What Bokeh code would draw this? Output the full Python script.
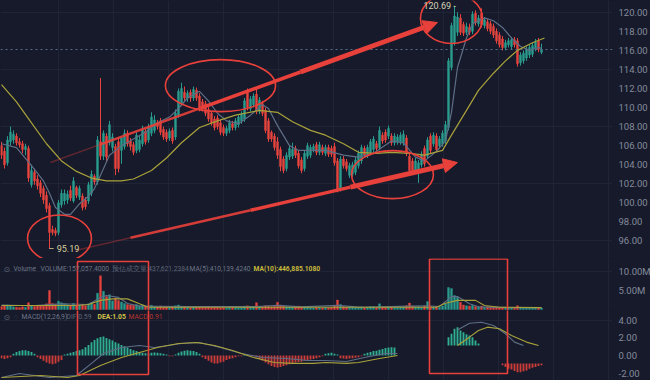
from bokeh.plotting import figure
from bokeh.layouts import column
from bokeh.models import (ColumnDataSource, Range1d, FixedTicker, NumeralTickFormatter,
                          PrintfTickFormatter, Span, Label, Arrow, NormalHead)
from bokeh.embed import file_html
from bokeh.resources import INLINE

# ---------------- data ----------------
open_ = [106.0,105.4,104.2,106.4,106.6,107.0,106.4,106.2,105.6,105.7,
         101.9,103.2,102.5,102.1,101.5,100.8,99.7,97.2,97.1,96.9,
         99.8,100.2,100.3,101.3,100.2,101.6,100.6,100.7,100.3,100.2,
         101.0,102.8,102.2,106.4,104.9,107.0,106.3,105.8,105.9,106.4,
         105.5,105.9,107.3,106.5,106.1,105.5,105.6,106.2,107.5,106.6,
         107.3,107.6,108.4,108.6,107.7,107.4,106.8,107.6,106.9,109.2,
         110.5,111.6,111.0,111.6,111.0,111.8,111.2,110.6,110.4,109.8,
         109.4,108.8,108.9,108.4,107.9,107.3,107.6,108.3,107.9,108.2,
         108.6,108.8,111.8,109.9,110.3,111.4,109.6,110.4,109.7,108.6,
         107.4,107.0,106.4,105.6,104.6,103.6,104.8,104.9,105.7,105.2,
         104.5,103.6,104.9,105.0,105.6,106.1,105.3,105.8,105.2,105.8,
         105.7,105.9,104.4,101.4,104.6,104.3,102.9,103.0,103.2,103.9,
         104.4,105.7,105.0,105.3,105.6,106.2,105.8,107.1,107.4,107.0,
         107.0,106.3,106.4,106.4,106.3,106.8,104.9,104.4,103.4,103.4,
         104.0,105.7,104.9,107.0,106.2,107.0,106.0,106.2,106.5,107.9,
         114.2,116.8,117.9,119.4,118.7,117.9,118.4,118.0,119.9,118.8,
         119.9,118.6,119.0,118.8,118.5,118.0,117.6,117.2,116.3,116.6,
         116.4,117.1,117.0,114.7,114.9,115.2,115.5,115.6,116.2,117.0,115.8]
high = [106.4,105.8,107.0,108.0,107.6,107.3,106.8,106.5,106.2,106.0,
        104.0,103.6,102.9,102.4,101.8,101.2,100.0,97.6,97.4,100.3,
        101.4,101.4,101.3,101.8,102.7,101.8,101.8,101.0,100.6,102.2,
        103.4,103.0,107.0,113.1,107.6,107.3,108.6,107.3,106.2,106.8,
        106.9,107.7,107.6,106.8,106.4,107.4,107.0,108.1,107.8,108.3,
        109.5,109.2,108.7,108.9,108.0,107.7,107.8,107.9,109.8,112.0,
        112.6,112.2,111.8,111.9,112.2,112.1,111.5,110.9,110.7,110.1,
        109.6,109.1,109.2,108.7,108.2,108.1,108.7,108.6,108.9,109.3,
        109.6,111.0,112.0,111.2,111.5,112.1,111.1,110.7,110.0,108.9,
        107.6,107.3,106.9,105.9,104.9,105.3,106.0,106.3,106.0,105.5,
        104.8,105.5,106.3,106.1,106.2,106.4,106.4,106.1,106.1,106.1,
        106.0,106.3,104.7,104.9,104.9,104.6,104.2,104.3,104.8,105.5,
        106.1,106.0,106.1,106.7,107.0,106.5,108.0,107.4,107.7,108.1,
        107.3,107.3,107.2,107.4,107.6,107.1,105.2,104.7,104.7,104.5,
        105.4,106.0,106.9,107.3,107.4,107.3,107.0,107.6,108.6,115.2,
        118.9,120.69,120.0,119.8,119.0,118.9,118.8,120.1,120.2,119.7,
        120.4,119.5,119.3,119.1,118.8,118.3,117.9,117.5,117.1,117.3,
        117.4,117.4,117.3,115.8,116.0,116.4,116.6,116.8,117.2,117.3,116.7]
low = [104.6,103.6,103.9,106.0,106.2,106.0,105.8,105.2,105.0,102.2,
       101.6,101.9,101.4,100.6,99.9,99.0,95.19,96.6,96.5,96.6,
       99.5,99.8,99.9,100.2,100.0,100.5,100.3,99.2,99.3,99.9,
       100.7,101.9,101.9,104.5,104.5,104.4,106.0,105.4,102.9,103.2,
       104.1,105.6,105.9,105.5,105.0,105.2,105.3,105.9,106.1,106.3,
       107.0,107.3,107.7,107.1,106.6,106.4,106.5,106.2,106.6,108.9,
       110.2,110.7,110.6,110.6,110.7,110.7,109.6,109.6,109.1,108.5,
       108.1,107.6,107.7,107.1,107.0,107.0,107.3,107.6,107.6,107.9,
       108.3,108.5,109.7,109.6,110.0,109.3,109.3,109.1,107.3,106.4,
       106.4,105.5,104.6,103.3,103.1,103.3,104.5,104.6,104.7,103.6,
       103.1,103.3,104.6,104.7,105.3,105.0,105.0,105.0,104.9,104.8,
       104.8,103.9,101.1,101.2,103.6,103.3,102.6,102.7,102.9,103.6,
       104.1,104.7,104.7,105.0,105.3,105.4,105.5,106.2,106.3,106.7,
       106.0,106.0,106.1,106.1,106.0,104.9,103.1,103.1,103.1,102.1,
       103.7,103.8,104.6,105.2,105.9,105.3,105.7,105.9,106.2,107.6,
       113.9,116.5,117.5,117.6,117.5,117.6,117.6,117.7,118.6,118.5,
       118.4,118.3,118.0,117.7,117.3,116.7,116.3,116.0,116.0,116.3,
       116.1,116.3,114.3,114.4,114.6,114.9,115.2,115.3,115.9,115.8,115.6]
close_ = [105.0,104.0,106.6,107.4,107.2,106.3,106.1,105.6,105.9,102.6,
          103.4,102.3,101.8,101.0,100.3,99.4,96.9,96.9,96.8,100.0,
          101.0,101.0,100.9,100.5,102.3,100.8,101.5,99.5,99.6,101.9,
          103.0,102.2,106.6,104.9,107.3,104.8,108.2,106.9,103.6,103.6,
          106.8,107.3,106.2,105.9,105.3,107.1,106.6,107.7,106.4,107.9,
          109.0,108.7,108.0,107.4,106.9,106.7,107.5,106.5,109.4,111.7,
          112.0,111.0,111.5,111.0,111.9,111.0,109.9,109.9,109.4,108.8,
          108.4,107.9,108.0,107.4,107.3,107.8,108.4,107.9,108.6,109.0,
          109.3,110.7,110.0,110.9,111.2,109.6,110.8,109.4,107.6,106.7,
          106.7,105.8,105.0,103.8,103.4,105.0,105.7,105.6,105.0,103.9,
          103.4,105.2,106.0,105.8,105.9,105.3,106.1,105.3,105.8,105.1,
          105.1,104.2,101.3,104.6,103.9,103.6,103.9,104.0,104.5,105.2,
          105.8,105.0,105.8,106.4,106.7,105.7,107.6,106.5,106.6,107.8,
          106.3,107.0,106.9,107.1,107.2,105.2,103.4,103.3,104.4,104.2,
          105.1,104.1,106.6,105.5,107.1,105.6,106.7,107.3,108.2,114.9,
          118.6,119.6,119.5,117.9,117.8,118.5,117.9,119.8,118.9,119.4,
          118.7,119.2,118.3,118.0,117.6,117.0,116.6,116.3,116.8,117.0,
          117.1,116.6,114.6,115.5,115.7,116.1,116.3,116.5,116.9,116.1,116.09]

ma_short_idx = [0,5,10,14,16,18,21,23,26,29,31,33,36,40,44,48,52,56,59,62,66,69,72,75,79,83,
                87,89,92,96,99,104,108,114,119,124,130,134,138,141,145,148,150,152,155,157,
                161,164,167,170,173,176,179,180]
ma_short = [106.2,105.8,103.9,102.3,101.0,99.5,98.8,98.8,99.9,100.7,101.5,102.9,105.0,106.0,
            106.7,107.4,108.4,109.0,109.9,111.0,111.7,110.7,109.4,108.6,108.3,109.2,110.3,109.9,
            108.1,106.0,105.5,105.5,105.5,105.0,104.8,105.2,106.5,106.3,104.8,104.4,105.4,106.5,
            109.5,114.2,117.3,118.8,119.4,119.1,118.4,117.3,116.4,116.0,116.3,116.2]
ma_long_idx = [0,5,10,15,20,25,30,35,40,44,50,55,60,66,72,78,86,92,97,103,108,114,119,125,
               130,136,141,147,150,155,159,164,168,172,177,181]
ma_long = [112.4,110.6,108.4,106.2,104.4,103.3,102.6,102.3,102.3,102.5,103.4,104.7,106.3,107.9,
           108.6,109.2,109.7,109.5,108.5,107.6,107.1,106.2,105.3,105.2,105.3,105.2,105.0,105.5,
           107.1,109.7,111.8,113.6,114.9,116.0,116.8,117.3]
last_price = 116.09
high_mark = 120.69
low_mark = 95.19
price_ticks = [96, 98, 100, 102, 104, 106, 108, 110, 112, 114, 116, 118, 120]
price_grid = [96, 102, 108, 114, 120]
time_grid = [19, 37.33, 55.67, 74, 92.33, 110.67, 129, 147.33, 165.67, 184, 202.33]

# volume (millions)
volume_m = [0.8,1.0,1.2,0.9,0.7,0.6,0.5,0.7,0.6,1.8,
            1.0,0.8,0.9,1.0,1.1,1.5,5.0,1.6,1.4,2.2,
            1.8,1.5,1.3,1.2,1.6,1.0,1.1,1.2,1.0,1.5,
            1.9,1.4,4.3,8.9,4.8,3.4,3.9,2.3,3.0,2.4,
            2.0,1.6,1.3,1.2,1.1,1.3,1.0,1.2,0.9,1.0,
            1.1,0.8,0.7,0.9,0.6,0.7,0.6,0.8,1.0,1.2,
            0.9,0.7,0.6,0.5,0.7,0.6,0.8,0.6,0.5,0.6,
            0.5,0.6,0.5,0.4,0.5,0.4,0.6,0.5,0.6,0.5,
            0.6,0.9,1.0,0.6,0.7,1.8,0.8,0.7,1.0,0.9,
            0.7,0.8,1.9,1.2,1.0,0.8,0.7,0.6,0.7,0.9,
            0.8,0.7,0.6,0.5,0.4,0.6,0.5,0.4,0.5,0.4,
            0.6,0.9,2.5,1.3,0.8,0.6,0.7,0.6,0.5,0.6,
            0.7,0.5,0.6,0.8,0.7,0.5,1.5,0.7,0.6,0.8,
            0.6,0.5,0.5,0.6,0.7,1.0,1.7,0.9,0.7,0.8,
            0.6,0.9,2.1,0.8,0.7,0.8,0.6,0.9,1.5,5.8,
            5.5,3.7,3.2,1.9,1.2,1.0,0.9,1.1,0.8,0.7,
            0.9,0.6,0.7,0.6,0.5,0.6,0.5,0.4,0.5,0.4,
            0.5,0.4,1.0,0.6,0.5,0.4,0.5,0.4,0.5,0.4,0.4]
vol_ma5_idx = [0,10,20,29,33,35,39,42,46,60,85,92,100,112,120,136,142,146,150,152,156,159,170,180]
vol_ma5 = [1.2,1.0,1.5,1.3,3.2,3.7,3.2,1.6,0.9,0.8,0.8,1.1,0.7,1.1,0.6,0.9,1.0,0.8,3.4,3.4,1.5,0.7,0.5,0.5]
vol_ma10_idx = [0,25,29,33,37,42,46,49,80,110,145,148,152,158,161,166,180]
vol_ma10 = [1.05,1.05,1.3,2.4,2.8,2.8,1.5,0.6,0.6,0.6,0.6,1.66,2.4,2.4,1.05,0.6,0.5]
vol_ticks = [5, 10]
vol_last_label = "157.1k"

# MACD histogram (index 0..131), then the pasted-over parts of the picture
macd_hist = [-0.3,-0.4,-0.3,-0.2,
             0.2,0.4,0.5,0.6,0.6,0.5,0.4,0.2,
             -0.2,-0.4,-0.6,-0.8,-0.9,-1.0,-0.9,-0.7,-0.5,
             0.1,0.2,0.3,0.4,0.5,0.6,
             0.7,0.95,1.2,1.5,1.75,1.95,2.1,2.15,2.0,1.85,
             1.7,1.5,1.35,1.2,1.05,0.9,0.75,0.6,
             0.5,0.4,0.3,0.25,0.2,
             0.3,0.35,0.3,0.25,0.2,0.1,
             -0.1,-0.1,0.1,
             0.3,0.45,0.55,0.6,0.55,0.5,0.4,0.2,
             -0.2,-0.4,-0.6,-0.8,-0.9,-0.9,-0.8,-0.7,-0.5,-0.4,-0.3,
             -0.2,-0.1,-0.1,0.1,0.1,-0.1,-0.1,-0.2,
             -0.4,-0.6,-0.8,-1.0,-1.2,-1.3,-1.35,-1.3,-1.2,-1.1,-1.0,
             -0.9,-0.8,-0.75,-0.7,-0.6,-0.5,-0.45,-0.4,-0.3,-0.2,-0.1,
             0.2,0.25,0.3,0.2,0.1,
             -0.3,-0.35,-0.4,-0.35,-0.3,-0.25,-0.2,-0.1,
             0.2,0.3,0.4,0.5,0.55,0.65,0.75,0.85,0.9,0.95,0.9]
up_patch_idx = list(range(149, 160))
up_patch_low = 1.14
up_patch_high = [2.08,2.47,3.03,3.2,2.84,2.65,2.4,2.27,2.08,1.7,1.36]
dn_patch_idx = list(range(167, 181))
dn_patch_high = -0.9
dn_patch_low = [-1.1,-1.3,-1.5,-1.6,-1.75,-1.9,-1.9,-1.8,-1.7,-1.5,-1.4,-1.3,-1.2,-1.1]
dif_idx = [0,6,16,25,30,34,40,46,51,60,66,73,80,87,95,102,108,115,121,128,132,
           None,152,156,160,164,168,171,174]
dif = [-2.5,-2.05,-2.5,-2.27,-0.9,0.23,0.9,1.14,0.9,1.36,1.48,0.9,0.23,-0.23,-0.34,-0.57,
       -0.57,-0.68,-0.23,0.23,0.23, None,2.9,3.67,3.78,3.4,2.47,1.52,1.14]
dea_idx = [0,13,22,26,33,40,46,52,59,65,71,77,84,91,97,104,108,115,119,126,132,
           None,152,156,159,162,166,170,175,179]
dea = [-2.5,-2.27,-2.5,-2.27,-1.14,-0.23,0.34,0.9,1.36,1.48,1.14,0.57,-0.23,-0.8,-0.9,-0.9,
       -0.8,-0.9,-0.8,-0.34,0.0, None,1.14,2.08,2.84,3.22,3.03,2.27,1.52,1.14]
macd_ticks = [-2, 0, 2, 4]

# hand-drawn annotations (data coordinates: candle index, value)
up_arrow_x = [16.33, 33.0, 66.33, 99.67, 145.33]
up_arrow_y = [104.23, 106.13, 109.93, 113.73, 118.92]
lo_arrow_x = [24.67, 43.0, 83.0, 116.33, 152.0]
lo_arrow_y = [95.0, 96.33, 99.22, 101.65, 104.23]
ell_x = [73.0, 150.0, 130.33, 19.33]
ell_y = [112.30, 119.34, 102.96, 96.26]
ell_w = [36.7, 20.7, 27.3, 21.3]
ell_h = [5.46, 5.25, 5.04, 4.93]
box_left = [25.33, 142.67]
box_right = [49.0, 168.67]
box_top_vol = [12.63, 13.3]
box_bottom_macd = [-2.16, -2.05]

# ---------------- styling ----------------
BG = "#161a2b"
GRID = "#1f2437"
TEAL = "#2a9d8f"
RED = "#e8453f"
ANN = "#e8403a"
GREY_MA = "#5f6e86"
YEL = "#a9a23a"
AX = "#858b9b"
NAN = float("nan")

n = len(close_)
idx = list(range(n))
colors = [TEAL if c >= o else RED for o, c in zip(open_, close_)]

xr = Range1d(-0.33, 203.67)


def make_fig(h, yr, ticks, fmt, grid_ticks):
    f = figure(frame_width=612, frame_height=h, x_range=xr, y_range=yr,
               x_axis_location=None, y_axis_location="right", title=None,
               toolbar_location=None, output_backend="svg",
               background_fill_color=BG, border_fill_color=BG,
               outline_line_color=None, min_border=0)
    ax = f.yaxis[0]
    ax.ticker = FixedTicker(ticks=ticks)
    ax.formatter = fmt
    ax.axis_line_color = None
    ax.major_tick_line_color = None
    ax.minor_tick_line_color = None
    ax.major_tick_out = 0
    ax.major_tick_in = 0
    ax.minor_tick_out = 0
    ax.major_label_standoff = 6
    ax.major_label_text_color = AX
    ax.major_label_text_font = "Roboto"
    ax.major_label_text_font_size = "9.5px"
    f.xgrid.ticker = FixedTicker(ticks=time_grid)
    f.xgrid.grid_line_color = GRID
    f.ygrid.ticker = FixedTicker(ticks=grid_ticks)
    f.ygrid.grid_line_color = GRID
    return f


# ---- price pane ----
p1 = make_fig(258, Range1d(94.16, 121.23), price_ticks, NumeralTickFormatter(format="0.00"), price_grid)
src = ColumnDataSource(dict(
    x=idx, low=low, high=high,
    top=[max(o, c) for o, c in zip(open_, close_)],
    bottom=[min(o, c) for o, c in zip(open_, close_)],
    color=colors))
p1.add_layout(Span(location=last_price, dimension="width", line_color="#5b7086",
                   line_dash="2 3", line_width=1))
p1.segment(x0="x", y0="low", x1="x", y1="high", line_color="color", line_width=1, source=src)
p1.vbar(x="x", width=0.62, top="top", bottom="bottom", fill_color="color",
        line_color="color", line_width=0.5, source=src)
p1.line(ma_short_idx, ma_short, line_color=GREY_MA, line_width=1.2)
p1.line(ma_long_idx, ma_long, line_color=YEL, line_width=1.2)

# annotations: ellipses
p1.ellipse(x=ell_x, y=ell_y, width=ell_w, height=ell_h, fill_color=None,
           line_color=ANN, line_width=1.6)
# arrows (tapered look with segments of growing width)
widths = [1.5, 2.5, 3.5]
alphas = [0.35, 0.9, 1.0]
for ax_, ay_ in ((up_arrow_x, up_arrow_y), (lo_arrow_x, lo_arrow_y)):
    p1.segment(x0=ax_[:3], y0=ay_[:3], x1=ax_[1:4], y1=ay_[1:4],
               line_color=ANN, line_width=widths, line_alpha=alphas)
    p1.add_layout(Arrow(end=NormalHead(size=14, fill_color=ANN, line_color=ANN),
                        x_start=ax_[3], y_start=ay_[3], x_end=ax_[4], y_end=ay_[4],
                        line_color=ANN, line_width=5))

p1.add_layout(Label(x=140.67, y=high_mark, text="%.2f -" % high_mark, text_font="Roboto",
                    text_font_size="9px", text_color="#d6d2b4", text_baseline="middle"))
p1.add_layout(Label(x=15.67, y=low_mark, text="– %.2f" % low_mark, text_font="Roboto",
                    text_font_size="9px", text_color="#d6d09c", text_baseline="middle"))
p1.add_layout(Label(x=204.67, y=last_price, text="%.2f" % last_price, text_font="Roboto",
                    text_font_size="9px", text_color="#ffffff", text_baseline="middle",
                    background_fill_color="#22a37f", padding=2))

# ---- volume pane ----
p2 = make_fig(52, Range1d(-0.26, 13.42), vol_ticks, PrintfTickFormatter(format="%.2fM"), [10])
p2.vbar(x=idx, width=0.62, top=volume_m, bottom=0, fill_color=colors, line_color=colors,
        line_width=0.4)
p2.line(vol_ma5_idx, vol_ma5, line_color=GREY_MA, line_width=1.1)
p2.line(vol_ma10_idx, vol_ma10, line_color=YEL, line_width=1.1)
p2.quad(left=box_left, right=box_right, top=box_top_vol, bottom=[-5, -5],
        fill_color=None, line_color=ANN, line_width=1.6)
hy = 10.53
p2.add_layout(Label(x=0.67, y=hy, text="⊙", text_font="DejaVu Sans", text_font_size="8px",
                    text_color="#5d6475", text_baseline="middle"))
for tx, t, col, st in ((4.0, "Volume", "#6f7687", "normal"),
                       (13.0, "VOLUME:157,057.4000", "#6f7687", "normal"),
                       (36.7, "预估成交量:437,621.2384", "#5f6676", "normal"),
                       (62.7, "MA(5):410,139.4240", "#6f7687", "normal"),
                       (84.0, "MA(10):446,885.1080", "#c9b93c", "bold")):
    p2.add_layout(Label(x=tx, y=hy, text=t, text_font="Roboto",
                        text_font_size="6.7px", text_color=col, text_font_style=st,
                        text_baseline="middle"))
p2.add_layout(Label(x=204.67, y=0.8, text=vol_last_label, text_font="Roboto",
                    text_font_size="9px", text_color="#f3efd6", text_baseline="middle",
                    background_fill_color="#9d9132", padding=2))

# ---- MACD pane ----
p3 = make_fig(70, Range1d(-2.84, 5.11), macd_ticks, NumeralTickFormatter(format="0.00"), [4])
hist_x = list(range(len(macd_hist)))
p3.vbar(x=hist_x, width=0.62, top=macd_hist, bottom=0,
        fill_color=["#33bf9c" if v >= 0 else "#e0403a" for v in macd_hist],
        line_color=None, fill_alpha=0.9)
p3.vbar(x=up_patch_idx, width=0.62, top=up_patch_high, bottom=up_patch_low,
        fill_color="#33bf9c", line_color=None, fill_alpha=0.9)
p3.vbar(x=dn_patch_idx, width=0.62, top=dn_patch_high, bottom=dn_patch_low,
        fill_color="#e0403a", line_color=None, fill_alpha=0.9)
p3.line([NAN if v is None else v for v in dif_idx], [NAN if v is None else v for v in dif],
        line_color=GREY_MA, line_width=1.1)
p3.line([NAN if v is None else v for v in dea_idx], [NAN if v is None else v for v in dea],
        line_color=YEL, line_width=1.1)
p3.quad(left=box_left, right=box_right, top=[10, 10], bottom=box_bottom_macd,
        fill_color=None, line_color=ANN, line_width=1.6)
my = 4.32
p3.add_layout(Label(x=0.67, y=my, text="⊙", text_font="DejaVu Sans", text_font_size="8px",
                    text_color="#5d6475", text_baseline="middle"))
for tx, t, col, st in ((4.2, "◌", "#6f7687", "normal"),
                       (6.67, "MACD(12,26,9)", "#6f7687", "normal"),
                       (21.67, "DIF:0.59", "#5f6676", "normal"),
                       (32.0, "DEA:1.05", "#d3c347", "bold"),
                       (42.3, "MACD:0.91", "#b8342f", "normal")):
    p3.add_layout(Label(x=tx, y=my, text=t, text_font="Roboto",
                        text_font_size="6.8px", text_color=col, text_font_style=st,
                        text_baseline="middle"))

layout = column(p1, p2, p3, spacing=0)

page_style = "{% block preamble %}<style>html, body { background: #161a2b; }</style>{% endblock %}"
open("out.html", "w").write(file_html(layout, INLINE, template=page_style))
